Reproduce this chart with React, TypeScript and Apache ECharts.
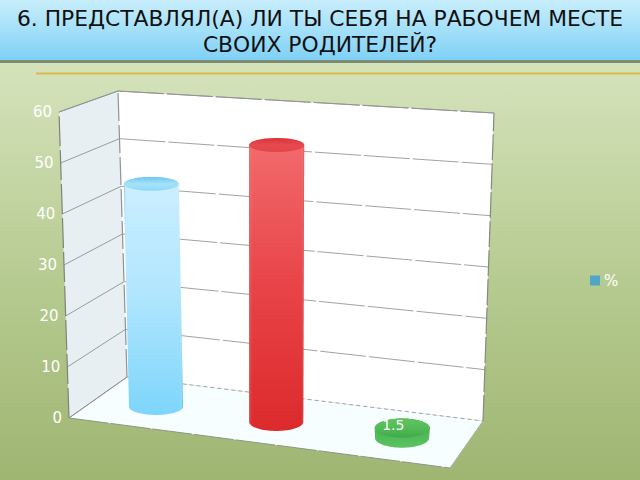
import React, { useEffect, useRef } from "react";
import * as echarts from "echarts";

const titleText = "6. ПРЕДСТАВЛЯЛ(А) ЛИ ТЫ СЕБЯ НА РАБОЧЕМ МЕСТЕ\nСВОИХ РОДИТЕЛЕЙ?";
const seriesName = "%";
const categories = ["1", "2", "3"];
const percentValues = [44.5, 54, 1.5];
const valueTicks = [0, 10, 20, 30, 40, 50, 60];

const FONT = '"DejaVu Sans", sans-serif';
const GRID = { left: 100, top: 100, width: 300, height: 300 };
const BAR_DEPTH = 0.465;
const BAR_RX = 27.5;
const MIN_BAR_PX = 10;

type P = [number, number];
// picture positions of the box corners
const C: Record<string, P> = {
  l0f: [69, 418], l1f: [59, 112], l0b: [127, 377], l1b: [118, 91],
  r0f: [450, 468], r1f: [461, 139], r0b: [483, 421], r1b: [494, 113],
};
const mix = (a: P, b: P, t: number): P => [a[0] + (b[0] - a[0]) * t, a[1] + (b[1] - a[1]) * t];
const project = (u: number, v: number, d: number): P => {
  const bottom = mix(mix(C.l0f, C.l0b, d), mix(C.r0f, C.r0b, d), u);
  const top = mix(mix(C.l1f, C.l1b, d), mix(C.r1f, C.r1b, d), u);
  return mix(bottom, top, v);
};
const warp = (u: number) => u / (u + 1.07 * (1 - u)) + 0.005;
const toUV = (pt: number[]) => [
  (pt[0] - GRID.left) / GRID.width,
  (GRID.top + GRID.height - pt[1]) / GRID.height,
];

const lin = (stops: [number, string][], horizontal = false) =>
  new echarts.graphic.LinearGradient(0, 0, horizontal ? 1 : 0, horizontal ? 0 : 1,
    stops.map(([offset, color]) => ({ offset, color })));

const STYLES = [
  {
    side: [[0, "#cdefff"], [0.5, "#b0e6fe"], [1, "#7dd5fb"]] as [number, string][],
    capFill: [[0, "#6cc6ec"], [0.5, "#a6e2fa"], [1, "#8fd8f5"]] as [number, string][],
    edge: "rgba(70,165,205,0.55)",
  },
  {
    side: [[0, "#f26c6e"], [0.5, "#e84448"], [1, "#dc2a2c"]] as [number, string][],
    capFill: [[0, "#d8343a"], [0.5, "#e64a50"], [1, "#e2454a"]] as [number, string][],
    edge: "rgba(170,30,35,0.35)",
  },
  {
    side: [[0, "#3ea848"], [1, "#5cc462"]] as [number, string][],
    capFill: [[0, "#62c463"], [0.6, "#4fb855"], [1, "#3eaa48"]] as [number, string][],
    edge: "rgba(40,130,50,0.3)",
  },
];

const ellipseArc = (cx: number, cy: number, rx: number, ry: number, from: number, to: number) => {
  const pts: P[] = [];
  const n = 40;
  for (let i = 0; i <= n; i++) {
    const a = from + ((to - from) * i) / n;
    pts.push([cx + rx * Math.cos(a), cy + ry * Math.sin(a)]);
  }
  return pts;
};

const renderWalls = () => {
  const poly = (pts: P[], fill: string) => ({
    type: "polygon", shape: { points: pts }, style: { fill, stroke: "none" },
  });
  return {
    type: "group",
    children: [
      poly([project(0, 0, 0), project(0, 1, 0), project(0, 1, 1), project(0, 0, 1)], "#e8eff3"),
      poly([project(0, 0, 1), project(0, 1, 1), project(1, 1, 1), project(1, 0, 1)], "#ffffff"),
      poly([project(0, 0, 0), project(0, 0, 1), project(1, 0, 1), project(1, 0, 0)], "#f6feff"),
    ],
  };
};

const renderTick = (_p: any, api: any) => {
  const v = toUV(api.coord([api.value(0), api.value(1)]))[1];
  const f = project(0, v, 0);
  const m = project(0, v, 1);
  const r = project(1, v, 1);
  const line = (a: P, b: P, stroke: string, dash?: number[]) => ({
    type: "line",
    shape: { x1: a[0], y1: a[1], x2: b[0], y2: b[1] },
    style: { stroke, lineWidth: 1, lineDash: dash, fill: "none" },
  });
  return {
    type: "group",
    children: [
      line(f, m, "#969ca0"),
      line(m, r, "#a2a2a2", v === 0 ? [4, 3] : [46, 3]),
      {
        type: "text",
        style: {
          x: f[0] - 7, y: f[1], text: String(api.value(1)), fill: "#ffffff",
          font: `15px ${FONT}`, align: "right", verticalAlign: "middle",
        },
      },
    ],
  };
};

const renderEdges = () => {
  const seg = (a: P, b: P, stroke: string, lineWidth: number, dash: number[]) => ({
    type: "line",
    shape: { x1: a[0], y1: a[1], x2: b[0], y2: b[1] },
    style: { stroke, lineWidth, lineDash: dash, fill: "none" },
  });
  return {
    type: "group",
    children: [
      seg(project(0, 0, 0), project(0, 1, 0), "#7d8379", 1.2, [30, 4]),
      seg(project(0, 0, 1), project(0, 1, 1), "#8e9598", 1.2, [28, 4]),
      seg(project(1, 0, 1), project(1, 1, 1), "#85897f", 1.2, [26, 3]),
      seg(project(0, 1, 0), project(0, 1, 1), "#8e9598", 1, [40, 0]),
      seg(project(0, 1, 1), project(1, 1, 1), "#949494", 1, [46, 3]),
      seg(project(0, 0, 0), project(1, 0, 0), "#8d9784", 1, [40, 2]),
      seg(project(1, 0, 0), project(1, 0, 1), "#a8b4a0", 1, [40, 0]),
      seg(project(0, 0, 0), project(0, 0, 1), "#8e9598", 1, [40, 0]),
    ],
  };
};

const renderBar = (_p: any, api: any) => {
  const i = api.value(0);
  const val = api.value(1);
  const [rawU, v] = toUV(api.coord([i, val]));
  const u = warp(rawU);
  const base = project(u, 0, BAR_DEPTH);
  const rawTop = project(u, v, BAR_DEPTH);
  const top: P = [rawTop[0], Math.min(rawTop[1], base[1] - MIN_BAR_PX)];
  const st = STYLES[i];
  const frac = Math.min(1, val / 45);
  const ryBase = 8 + 2 * u;
  const ryTop = 7 + (1 + 2 * u) * (1 - frac);
  const bodyPts: P[] = [
    ...ellipseArc(top[0], top[1], BAR_RX, ryTop, Math.PI, 2 * Math.PI),
    ...ellipseArc(base[0], base[1], BAR_RX - 0.5, ryBase, 0, Math.PI),
  ];
  return {
    type: "group",
    children: [
      {
        type: "polygon", shape: { points: bodyPts },
        style: { fill: lin(st.side), stroke: "none" },
      },
      {
        type: "polygon", shape: { points: bodyPts },
        style: {
          stroke: "none",
          fill: lin([[0, st.edge], [0.05, "rgba(255,255,255,0)"], [0.95, "rgba(255,255,255,0)"], [1, st.edge]], true),
        },
      },
      {
        type: "polygon",
        shape: { points: ellipseArc(top[0], top[1], BAR_RX, ryTop, 0, 2 * Math.PI) },
        style: { fill: lin(st.capFill), stroke: "none" },
      },
      {
        type: "text",
        style: {
          x: top[0] - 9, y: top[1] - 3 - 9 * frac, text: String(val), fill: "#ffffff",
          font: `14px ${FONT}`, align: "center", verticalAlign: "middle",
        },
      },
    ],
  };
};

export default function App() {
  const ref = useRef<HTMLDivElement>(null);
  useEffect(() => {
    const chart = echarts.init(ref.current!, undefined, { renderer: "svg", width: 640, height: 480 });
    chart.setOption({
      animation: false,
      backgroundColor: lin([[0, "#d8e5c2"], [0.15, "#d4e2ba"], [0.6, "#b5ca8f"], [1, "#9fb572"]]),
      graphic: [
        {
          type: "rect", z: 0, shape: { x: 0, y: 0, width: 640, height: 60 },
          style: { fill: lin([[0, "#c8eefc"], [1, "#7fd1f6"]]) },
        },
        {
          type: "rect", z: 0, shape: { x: 0, y: 60, width: 640, height: 3 },
          style: { fill: "#7f8c74" },
        },
        {
          type: "rect", z: 0, shape: { x: 36, y: 72.5, width: 604, height: 2 },
          style: { fill: "#dfb84a" },
        },
      ],
      title: {
        text: titleText, left: 315, top: 0, textAlign: "center",
        textStyle: {
          fontFamily: FONT, fontSize: 21.8, fontWeight: "normal", align: "center",
          color: "#111111", lineHeight: 26,
        },
      },
      legend: {
        data: [seriesName], left: 590, top: 273, padding: 0, orient: "vertical",
        icon: "rect", itemWidth: 10, itemHeight: 10, itemGap: 4,
        textStyle: { color: "#ffffff", fontFamily: FONT, fontSize: 15, padding: [0, 0, 0, -1] },
      },
      grid: { ...GRID, show: false },
      xAxis: { type: "category", data: categories, show: false },
      yAxis: { type: "value", min: 0, max: 60, interval: 10, show: false },
      series: [
        {
          type: "custom", name: "walls", z: 2, silent: true, clip: false,
          coordinateSystem: "cartesian2d", renderItem: renderWalls,
          data: [[0, 0]], encode: { x: 0, y: 1 },
        },
        {
          type: "custom", name: "ticks", z: 3, silent: true, clip: false,
          coordinateSystem: "cartesian2d", renderItem: renderTick,
          data: valueTicks.map((t) => [0, t]), encode: { x: 0, y: 1 },
        },
        {
          type: "custom", name: "edges", z: 4, silent: true, clip: false,
          coordinateSystem: "cartesian2d", renderItem: renderEdges,
          data: [[0, 0]], encode: { x: 0, y: 1 },
        },
        {
          type: "custom", name: seriesName, z: 5, silent: true, clip: false,
          coordinateSystem: "cartesian2d", renderItem: renderBar,
          itemStyle: { color: "#4fa6c9" },
          data: percentValues.map((v, i) => [i, v]), encode: { x: 0, y: 1 },
        },
      ],
    });
    return () => chart.dispose();
  }, []);
  return <div ref={ref} style={{ position: "fixed", left: 0, top: 0, width: 640, height: 480 }} />;
}
